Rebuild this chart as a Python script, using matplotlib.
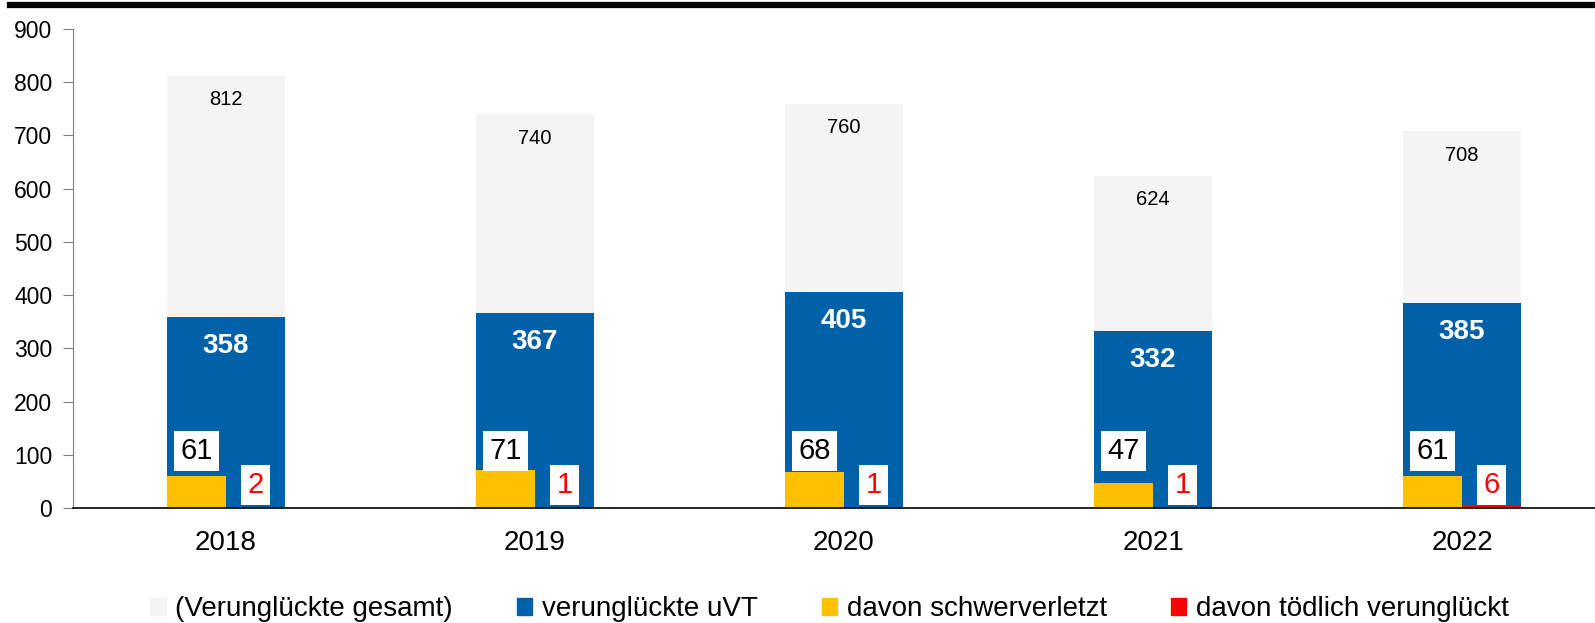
import matplotlib
matplotlib.use("Agg")
import matplotlib.pyplot as plt
from matplotlib.lines import Line2D
from matplotlib.patches import Patch

plt.rcParams['font.family'] = ['Liberation Sans', 'DejaVu Sans']

years = ["2018", "2019", "2020", "2021", "2022"]
gesamt = [812, 740, 760, 624, 708]
uvt = [358, 367, 405, 332, 385]
schwer = [61, 71, 68, 47, 61]
toedlich = [2, 1, 1, 1, 6]

c_gray = "#F4F4F4"
c_blue = "#0061A8"
c_yellow = "#FFC000"
c_red = "#FF0000"

W, H = 1595, 623
fig = plt.figure(figsize=(W / 100, H / 100), dpi=100)
ax = fig.add_axes([73 / W, 1 - 508 / H, 1 - 73 / W, (508 - 29) / H])

x = list(range(len(years)))
bw = 0.385
ax.bar(x, gesamt, width=bw, color=c_gray, zorder=1)
ax.bar(x, uvt, width=bw, color=c_blue, zorder=2)
xl = [i - bw / 4 for i in x]
xr = [i + bw / 4 for i in x]
ax.bar(xl, schwer, width=bw / 2, color=c_yellow, zorder=3)
ax.bar(xr, toedlich, width=bw / 2, color=c_red, zorder=3)

for i in x:
    ax.annotate(str(gesamt[i]), (i, gesamt[i]), xytext=(0, -24), textcoords="offset pixels",
                ha="center", va="center", fontsize=14.5, color="black", zorder=5)
    ax.annotate(str(uvt[i]), (i, uvt[i]), xytext=(0, -29), textcoords="offset pixels",
                ha="center", va="center", fontsize=20, fontweight="bold", color="white", zorder=5)
    ax.annotate(str(schwer[i]), (xl[i], 0), xytext=(0, 57), textcoords="offset pixels",
                ha="center", va="center", fontsize=21, color="black", zorder=5,
                bbox=dict(boxstyle="square,pad=0.22", fc="white", ec="none"))
    ax.annotate(str(toedlich[i]), (xr[i], 0), xytext=(0, 23), textcoords="offset pixels",
                ha="center", va="center", fontsize=21, color=c_red, zorder=5,
                bbox=dict(boxstyle="square,pad=0.22", fc="white", ec="none"))

ax.set_ylim(0, 900)
ax.set_yticks(range(0, 901, 100))
ax.set_xlim(-(226 - 73) / 309, (1595 - 226) / 309)
ax.set_xticks(x)
ax.set_xticklabels(years)
ax.tick_params(axis="x", length=0, pad=16, labelsize=20)
ax.tick_params(axis="y", length=7, color="#808080", pad=8, labelsize=16.5)
for s in ["top", "right"]:
    ax.spines[s].set_visible(False)
ax.spines["left"].set_color("#808080")
ax.spines["bottom"].set_color("black")
ax.spines["bottom"].set_linewidth(1.2)
ax.spines["bottom"].set_zorder(4)

handles = [Patch(color=c_gray), Patch(color=c_blue), Patch(color=c_yellow), Patch(color=c_red)]
labels = ["(Verunglückte gesamt)", "verunglückte uVT", "davon schwerverletzt", "davon tödlich verunglückt"]
fig.legend(handles, labels, loc="center", bbox_to_anchor=(0.52, 1 - 609 / H), ncol=4,
           frameon=False, fontsize=20, handlelength=0.55, handleheight=0.55,
           handletextpad=0.35, columnspacing=2.3, borderaxespad=0)

fig.add_artist(Line2D([10 / W, 1], [1 - 5 / H, 1 - 5 / H], color="black", linewidth=4.5,
                      transform=fig.transFigure))

fig.savefig("out.png", dpi=100)
